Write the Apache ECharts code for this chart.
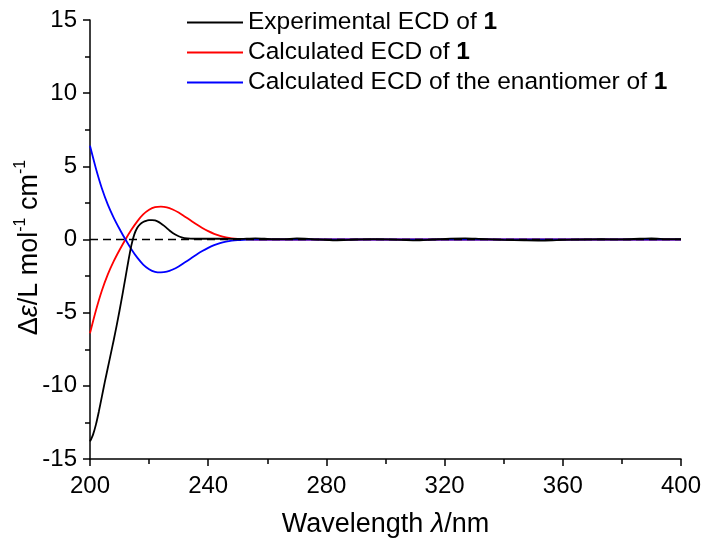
<!DOCTYPE html>
<html>
<head>
<meta charset="utf-8">
<script src="https://cdn.jsdelivr.net/npm/echarts@6/dist/echarts.min.js"></script>
<style>
html,body{margin:0;padding:0;background:#fff;}
#chart{width:706px;height:548px;}
</style>
</head>
<body>
<div id="chart"></div>
<script>
// ---- data ----
const xTicks = [200, 240, 280, 320, 360, 400];
const yTicks = [-15, -10, -5, 0, 5, 10, 15];
const compoundLabel = '1';
const seriesNames = ['Experimental ECD of ', 'Calculated ECD of ', 'Calculated ECD of the enantiomer of '];

const expWavelength = [200, 201, 202, 203, 204, 205, 206, 207, 208, 209, 210, 211, 212, 213, 214, 215, 216, 217, 218, 219, 220, 221, 222, 223, 224, 225, 226, 227, 228, 229, 230, 231, 232, 234, 236, 240, 245, 250, 256, 262, 266, 270, 275, 283, 290, 296, 303, 310, 316, 322, 327, 332, 340, 347, 354, 360, 367, 373, 380, 386, 390, 395, 400];
const expValues = [-13.8, -13.35, -12.65, -11.75, -10.75, -9.75, -8.8, -7.85, -6.9, -5.9, -4.85, -3.75, -2.6, -1.45, -0.4, 0.35, 0.8, 1.05, 1.2, 1.28, 1.32, 1.33, 1.3, 1.22, 1.1, 0.95, 0.78, 0.6, 0.45, 0.32, 0.22, 0.15, 0.1, 0.06, 0.05, 0.05, 0.05, 0.04, 0.08, 0.02, 0.03, 0.07, 0.03, -0.05, 0.0, 0.02, -0.01, -0.06, 0.0, 0.06, 0.08, 0.04, -0.02, -0.05, -0.07, -0.03, 0.0, 0.02, 0.01, 0.05, 0.07, 0.03, 0.02];

const calcWavelength = [200, 202, 204, 206, 208, 210, 212, 214, 216, 218, 220, 222, 224, 226, 228, 230, 232, 234, 236, 238, 240, 242, 244, 246, 248, 250, 252, 254, 256, 260, 300, 350, 400];
const calcValues = [-6.4, -4.85, -3.5, -2.4, -1.5, -0.72, 0.0, 0.66, 1.24, 1.71, 2.03, 2.21, 2.25, 2.2, 2.05, 1.84, 1.58, 1.31, 1.04, 0.79, 0.57, 0.39, 0.25, 0.15, 0.08, 0.04, 0.02, 0.01, 0, 0, 0, 0, 0];
const enantValues = [6.4, 4.85, 3.5, 2.4, 1.5, 0.72, 0.0, -0.66, -1.24, -1.71, -2.03, -2.21, -2.25, -2.2, -2.05, -1.84, -1.58, -1.31, -1.04, -0.79, -0.57, -0.39, -0.25, -0.15, -0.08, -0.04, -0.02, -0.01, 0, 0, 0, 0, 0];

const zeroLineX = [200, 400];
const zeroLineY = [0, 0];

// ---- chart ----
const zip = (xs, ys) => xs.map((x, i) => [x, ys[i]]);
const FONT = 'Liberation Sans';
const chart = echarts.init(document.getElementById('chart'), null, {renderer: 'canvas'});

const lineSeries = (name, xs, ys, color, z) => ({
  name: name, type: 'line', data: zip(xs, ys), smooth: 0.25, symbol: 'none',
  color: color, lineStyle: {color: color, width: 1.8}, z: z, silent: true
});

chart.setOption({
  animation: false,
  backgroundColor: '#fff',
  textStyle: {fontFamily: FONT, color: '#000'},
  grid: {left: 90, right: 25, top: 20, bottom: 89, containLabel: false, outerBoundsMode: 'none'},
  legend: {
    orient: 'vertical', left: 187, top: 10, padding: 0, itemWidth: 56, itemHeight: 2, itemGap: 5,
    icon: 'rect', selectedMode: false,
    data: seriesNames,
    formatter: n => '{t|' + n + '}{b|' + compoundLabel + '}',
    textStyle: {
      fontFamily: FONT, fontSize: 24.5, color: '#000',
      rich: {
        t: {fontFamily: FONT, fontSize: 24.5, color: '#000', lineHeight: 24},
        b: {fontFamily: FONT, fontSize: 24.5, fontWeight: 'bold', color: '#000', lineHeight: 24}
      }
    }
  },
  xAxis: {
    type: 'value', min: xTicks[0], max: xTicks[xTicks.length - 1], interval: 40,
    name: '{n|Wavelength }{i|λ}{n|/nm}', nameLocation: 'middle', nameGap: 52, nameMoveOverlap: false,
    nameTextStyle: {
      rich: {
        n: {fontFamily: FONT, fontSize: 27, color: '#000'},
        i: {fontFamily: FONT, fontSize: 27, fontStyle: 'italic', color: '#000'}
      }
    },
    axisLine: {show: true, onZero: false, lineStyle: {color: '#000', width: 1.5}},
    axisTick: {show: true, inside: false, length: 7, lineStyle: {color: '#000', width: 1.5}},
    minorTick: {show: true, splitNumber: 2, length: 5, lineStyle: {color: '#000', width: 1.5}},
    axisLabel: {fontFamily: FONT, fontSize: 24, color: '#000', margin: 15},
    splitLine: {show: false}
  },
  yAxis: {
    type: 'value', min: yTicks[0], max: yTicks[yTicks.length - 1], interval: 5,
    name: '{n|Δ}{i|ε}{n|/L mol}{s|-1}{n| cm}{s|-1}', nameLocation: 'middle', nameGap: 47, nameMoveOverlap: false,
    nameTextStyle: {
      padding: [0, 16, 0, 0],
      rich: {
        n: {fontFamily: FONT, fontSize: 27, color: '#000', lineHeight: 30, verticalAlign: 'bottom'},
        i: {fontFamily: FONT, fontSize: 27, fontStyle: 'italic', color: '#000', lineHeight: 30, verticalAlign: 'bottom'},
        s: {fontFamily: FONT, fontSize: 16, color: '#000', lineHeight: 30, verticalAlign: 'top'}
      }
    },
    axisLine: {show: true, onZero: false, lineStyle: {color: '#000', width: 1.5}},
    axisTick: {show: true, inside: false, length: 7, lineStyle: {color: '#000', width: 1.5}},
    minorTick: {show: true, splitNumber: 2, length: 5, lineStyle: {color: '#000', width: 1.5}},
    axisLabel: {fontFamily: FONT, fontSize: 24, color: '#000', margin: 13},
    splitLine: {show: false}
  },
  series: [
    lineSeries(seriesNames[0], expWavelength, expValues, '#000000', 4),
    lineSeries(seriesNames[1], calcWavelength, calcValues, '#ff0000', 2),
    lineSeries(seriesNames[2], calcWavelength, enantValues, '#0000ff', 3),
    {
      name: 'zero', type: 'line', data: zip(zeroLineX, zeroLineY), symbol: 'none', silent: true,
      lineStyle: {color: '#000', width: 1.5, type: [8, 5]}, z: 5
    }
  ]
});
</script>
</body>
</html>
